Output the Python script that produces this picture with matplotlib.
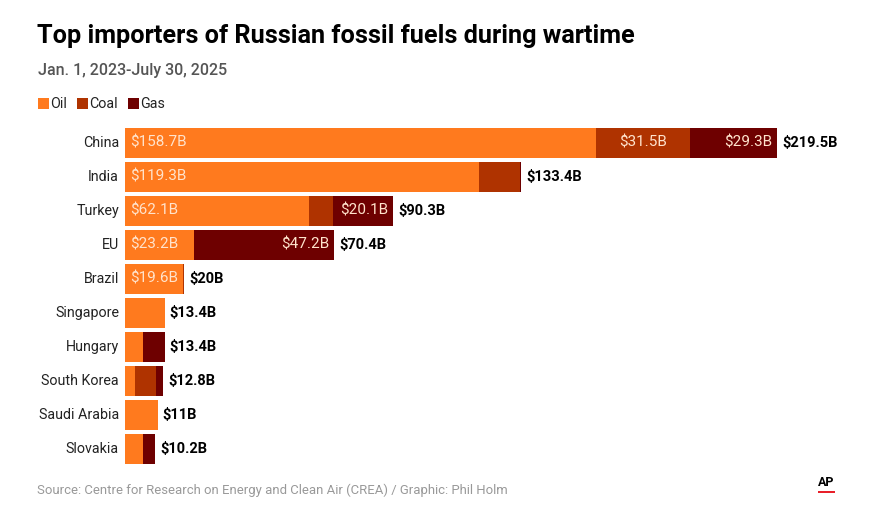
import numpy as np
import matplotlib
matplotlib.use('Agg')
import matplotlib.pyplot as plt
from matplotlib.patches import Rectangle

countries = ['China', 'India', 'Turkey', 'EU', 'Brazil', 'Singapore',
             'Hungary', 'South Korea', 'Saudi Arabia', 'Slovakia']
oil = [158.7, 119.3, 62.1, 23.2, 19.6, 13.4, 6.0, 3.4, 11.0, 6.0]
coal = [31.5, 13.8, 8.1, 0.0, 0.4, 0.0, 0.0, 7.0, 0.0, 0.0]
gas = [29.3, 0.3, 20.1, 47.2, 0.0, 0.0, 7.4, 2.4, 0.0, 4.2]
totals = ['$219.5B', '$133.4B', '$90.3B', '$70.4B', '$20B', '$13.4B',
          '$13.4B', '$12.8B', '$11B', '$10.2B']
oil_lbl = ['$158.7B', '$119.3B', '$62.1B', '$23.2B', '$19.6B', '', '', '', '', '']
coal_lbl = ['$31.5B', '', '', '', '', '', '', '', '', '']
gas_lbl = ['$29.3B', '', '$20.1B', '$47.2B', '', '', '', '', '', '']

c_oil = '#FF7A1E'
c_coal = '#AF3300'
c_gas = '#6E0000'
lbl_col = '#FFE3CC'

W, H = 875, 524
fig = plt.figure(figsize=(W / 100, H / 100), dpi=100)
fig.patch.set_facecolor('white')

px_per_b = 2.97
ax_left, ax_width = 125, 740
ax_top, ax_bot = 126, 466
ax = fig.add_axes([ax_left / W, 1 - ax_bot / H, ax_width / W, (ax_bot - ax_top) / H])
ax.set_xlim(0, ax_width / px_per_b)
ax.set_ylim(len(countries) - 0.5, -0.5)
ax.axis('off')

y = np.arange(len(countries))
oil = np.array(oil)
coal = np.array(coal)
gas = np.array(gas)
bh = 30 / 34

ax.barh(y, oil, height=bh, color=c_oil, linewidth=0)
ax.barh(y, coal, left=oil, height=bh, color=c_coal, linewidth=0)
ax.barh(y, gas, left=oil + coal, height=bh, color=c_gas, linewidth=0)

narrow = ['Liberation Sans Narrow', 'Roboto', 'DejaVu Sans']
pad = 5 / px_per_b
for i in range(len(countries)):
    tot = oil[i] + coal[i] + gas[i]
    ax.text(-6 / px_per_b, i, countries[i], ha='right', va='center',
            fontsize=10.3, color='#222222', family=['Roboto', 'DejaVu Sans'])
    ax.text(tot + pad, i, totals[i], ha='left', va='center', fontsize=10.5,
            fontweight='bold', color='black', family=['Roboto', 'DejaVu Sans'])
    if oil_lbl[i]:
        ax.text(pad, i, oil_lbl[i], ha='left', va='center', fontsize=11,
                color=lbl_col, family=narrow)
    if coal_lbl[i]:
        ax.text(oil[i] + coal[i] / 2, i, coal_lbl[i], ha='center', va='center',
                fontsize=11, color=lbl_col, family=narrow)
    if gas_lbl[i]:
        ax.text(tot - pad, i, gas_lbl[i], ha='right', va='center', fontsize=11,
                color=lbl_col, family=narrow)

# title block
fig.text(37 / W, 1 - 36 / H, 'Top importers of Russian fossil fuels during wartime',
         ha='left', va='center', fontsize=18.2, fontweight='bold', color='black',
         family=['Roboto', 'DejaVu Sans'])
fig.text(38 / W, 1 - 70 / H, 'Jan. 1, 2023-July 30, 2025', ha='left', va='center',
         fontsize=11.5, fontweight='medium', color='#555555',
         family=['Roboto', 'DejaVu Sans'])

# legend
lx = 38
for name, col in [('Oil', c_oil), ('Coal', c_coal), ('Gas', c_gas)]:
    fig.patches.append(Rectangle((lx / W, 1 - 109 / H), 11 / W, 11 / H,
                                 transform=fig.transFigure, color=col, linewidth=0))
    t = fig.text((lx + 12) / W, 1 - 104 / H, name, ha='left', va='center',
                 fontsize=10.3, color='#222222', family=['Roboto', 'DejaVu Sans'])
    lx += {'Oil': 39, 'Coal': 51, 'Gas': 40}[name]

# footer
fig.text(37 / W, 1 - 490 / H,
         'Source: Centre for Research on Energy and Clean Air (CREA) / Graphic: Phil Holm',
         ha='left', va='center', fontsize=9.45, color='#999999', family=narrow)
fig.text(826 / W, 1 - 482 / H, 'AP', ha='center', va='center', fontsize=9,
         fontweight='bold', color='black', family=narrow)
fig.patches.append(Rectangle((818 / W, 1 - 493 / H), 17 / W, 2 / H,
                             transform=fig.transFigure, color='#E8202A', linewidth=0))

fig.savefig('out.png', dpi=100)
